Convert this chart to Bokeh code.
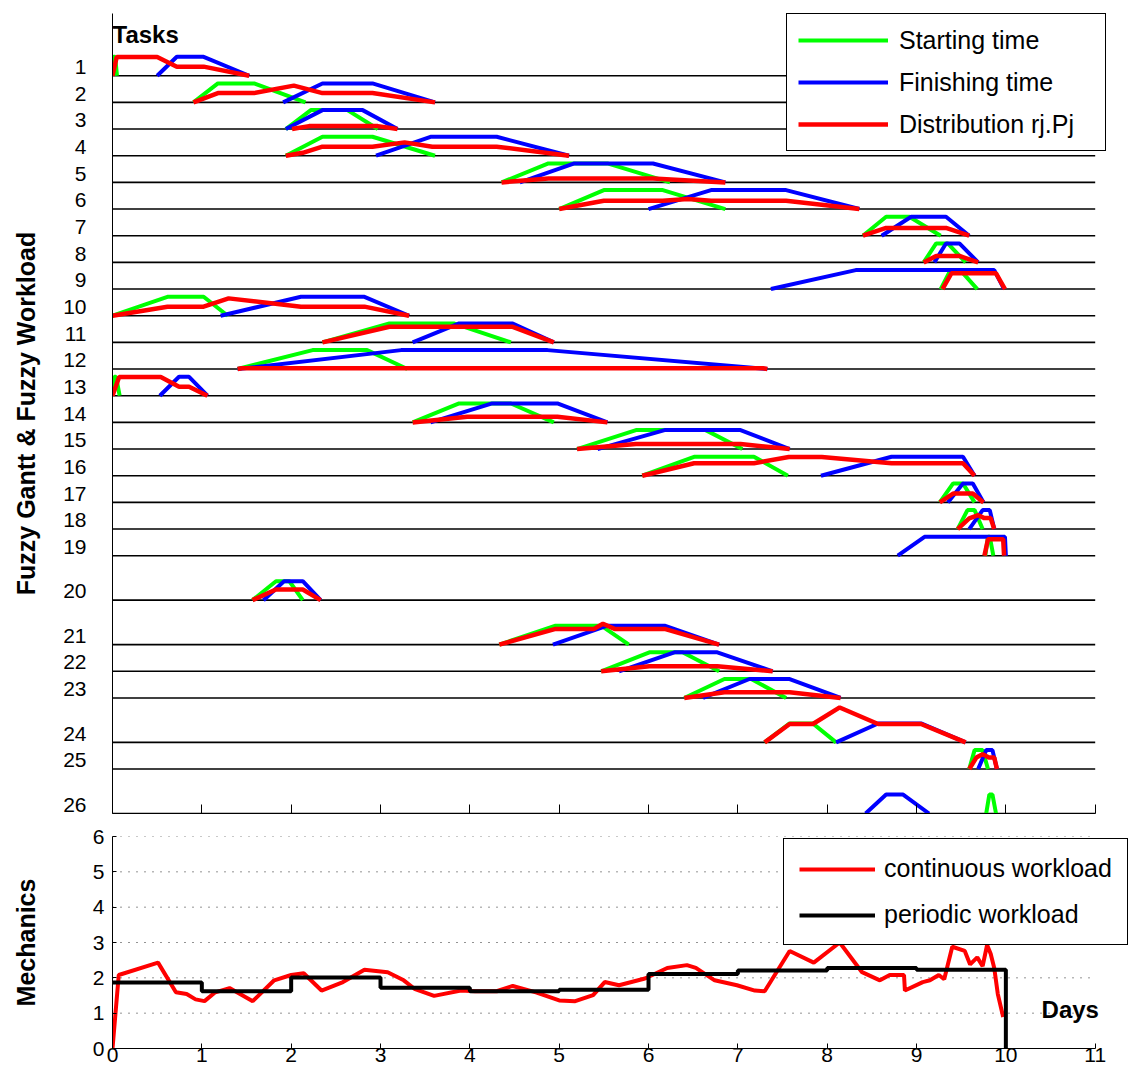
from bokeh.plotting import figure
from bokeh.layouts import column
from bokeh.models import Range1d, FixedTicker, Legend, LegendItem, Label
from bokeh.embed import file_html
from bokeh.resources import INLINE

FONT = "Liberation Sans"

# ---------------- data: fuzzy Gantt (days) ----------------
TASKS = [str(i) for i in range(1, 27)]
# spacing between consecutive task rows (in thirds of a standard row)
ROW_GAP = [3] * 18 + [5, 5, 3, 3, 5, 3, 5]
MEMBERSHIP = 0.71  # peak of starting / finishing trapezoids (row units)

START = [
    [0.0, 0.01, 0.03, 0.05], [0.906, 1.18, 1.585, 2.16], [1.94, 2.22, 2.63, 2.97],
    [1.94, 2.35, 2.91, 3.61], [4.355, 4.88, 5.54, 6.24], [5.0, 5.50, 6.16, 6.86],
    [8.40, 8.66, 8.92, 9.27], [9.08, 9.22, 9.35, 9.55], [9.27, 9.38, 9.49, 9.68],
    [0.0, 0.615, 1.02, 1.29], [2.35, 3.10, 3.82, 4.46], [1.40, 2.24, 2.85, 3.30],
    [0.0, 0.02, 0.04, 0.08], [3.36, 3.88, 4.46, 4.94], [5.20, 5.86, 6.64, 7.05],
    [5.93, 6.51, 7.18, 7.56], [9.26, 9.41, 9.52, 9.65], [9.46, 9.57, 9.65, 9.74],
    [9.77, 9.80, 9.82, 9.86], [1.567, 1.83, 1.98, 2.13], [4.33, 4.96, 5.47, 5.78],
    [5.47, 6.01, 6.38, 6.79], [6.40, 6.85, 7.15, 7.54], [7.30, 7.58, 7.84, 8.10],
    [9.59, 9.65, 9.74, 9.80], [9.78, 9.815, 9.85, 9.89],
]
FINISH = [
    [0.50, 0.72, 1.02, 1.53], [1.91, 2.35, 2.91, 3.61], [1.94, 2.35, 2.80, 3.19],
    [2.95, 3.56, 4.30, 5.11], [4.56, 5.17, 6.05, 6.86], [6.0, 6.70, 7.54, 8.36],
    [8.61, 8.94, 9.33, 9.59], [9.20, 9.33, 9.48, 9.69], [7.37, 8.32, 9.87, 9.98],
    [1.21, 2.11, 2.82, 3.32], [3.36, 3.88, 4.48, 4.94], [1.40, 3.23, 4.87, 7.33],
    [0.53, 0.745, 0.857, 1.063], [3.56, 4.25, 4.98, 5.54], [5.43, 6.18, 7.03, 7.58],
    [7.93, 8.72, 9.52, 9.65], [9.35, 9.52, 9.63, 9.75], [9.59, 9.74, 9.82, 9.87],
    [8.79, 9.09, 9.99, 10.0], [1.69, 1.92, 2.13, 2.33], [4.93, 5.54, 6.18, 6.79],
    [5.67, 6.29, 6.77, 7.39], [6.61, 7.13, 7.58, 8.15], [8.10, 8.57, 9.05, 9.55],
    [9.69, 9.78, 9.85, 9.90], [8.43, 8.66, 8.85, 9.14],
]
DIST_X = [
    [0.0, 0.047, 0.50, 0.72, 1.02, 1.53],
    [0.906, 1.18, 1.585, 2.03, 2.35, 2.91, 3.61],
    [2.01, 2.2, 2.97, 3.19],
    [1.94, 2.13, 2.35, 2.91, 3.27, 3.58, 4.30, 5.11],
    [4.355, 4.88, 6.05, 6.86],
    [5.0, 5.50, 6.16, 6.44, 6.70, 7.54, 8.36],
    [8.40, 8.66, 9.33, 9.59],
    [9.08, 9.22, 9.48, 9.69],
    [9.29, 9.39, 9.89, 9.99],
    [0.0, 0.615, 1.02, 1.30, 2.11, 2.82, 3.32],
    [2.35, 3.10, 4.48, 4.94],
    [1.40, 1.45, 7.28, 7.33],
    [0.0, 0.074, 0.54, 0.745, 0.857, 1.063],
    [3.36, 3.97, 4.98, 5.54],
    [5.20, 5.86, 7.03, 7.58],
    [5.93, 6.51, 7.18, 7.57, 7.94, 8.72, 9.52, 9.65],
    [9.26, 9.41, 9.63, 9.75],
    [9.46, 9.59, 9.69, 9.76, 9.83, 9.87],
    [9.76, 9.80, 9.97, 9.98],
    [1.567, 1.83, 2.13, 2.33],
    [4.33, 4.96, 5.39, 5.49, 5.62, 6.18, 6.79],
    [5.47, 6.01, 6.77, 7.39],
    [6.40, 6.85, 7.58, 8.15],
    [7.30, 7.58, 7.84, 8.14, 8.57, 9.05, 9.55],
    [9.59, 9.67, 9.74, 9.81, 9.87, 9.90],
    [],
]
DIST_H = [
    [0, 0.70, 0.70, 0.34, 0.34, 0],
    [0, 0.35, 0.35, 0.63, 0.35, 0.35, 0],
    [0, 0.11, 0.11, 0],
    [0, 0.11, 0.34, 0.34, 0.50, 0.34, 0.34, 0],
    [0, 0.15, 0.15, 0],
    [0, 0.31, 0.31, 0.38, 0.31, 0.31, 0],
    [0, 0.29, 0.29, 0],
    [0, 0.24, 0.24, 0],
    [0, 0.59, 0.59, 0],
    [0, 0.34, 0.34, 0.65, 0.34, 0.34, 0],
    [0, 0.585, 0.585, 0],
    [0, 0.03, 0.03, 0],
    [0, 0.70, 0.70, 0.34, 0.34, 0],
    [0, 0.21, 0.21, 0],
    [0, 0.19, 0.19, 0],
    [0, 0.47, 0.47, 0.70, 0.70, 0.47, 0.47, 0],
    [0, 0.33, 0.33, 0],
    [0, 0.40, 0.52, 0.41, 0.41, 0],
    [0, 0.62, 0.62, 0],
    [0, 0.40, 0.40, 0],
    [0, 0.59, 0.59, 0.78, 0.59, 0.59, 0],
    [0, 0.19, 0.19, 0],
    [0, 0.21, 0.21, 0],
    [0, 0.69, 0.69, 1.31, 0.69, 0.69, 0],
    [0, 0.43, 0.56, 0.43, 0.43, 0],
    [],
]

# ---------------- data: workload (mechanics) ----------------
DAY_TICKS = list(range(0, 12))
LOAD_TICKS = list(range(0, 7))
CONT_X = [0, 0.07, 0.51, 0.71, 0.83, 0.93, 1.03, 1.15, 1.31, 1.57, 1.81, 2.00, 2.14,
          2.34, 2.58, 2.82, 3.08, 3.26, 3.38, 3.60, 3.90, 4.06, 4.30, 4.48, 4.74,
          5.00, 5.18, 5.38, 5.51, 5.67, 5.96, 6.21, 6.43, 6.53, 6.74, 6.99, 7.19,
          7.30, 7.58, 7.85, 8.14, 8.39, 8.59, 8.70, 8.86, 8.87, 9.07, 9.15, 9.25,
          9.31, 9.40, 9.54, 9.60, 9.68, 9.74, 9.79, 9.83, 9.87, 9.91, 9.97]
CONT_Y = [0, 2.08, 2.43, 1.59, 1.54, 1.39, 1.34, 1.59, 1.71, 1.34, 1.93, 2.08, 2.13,
          1.64, 1.88, 2.23, 2.16, 1.93, 1.69, 1.49, 1.64, 1.62, 1.62, 1.77, 1.59,
          1.36, 1.34, 1.51, 1.88, 1.79, 1.98, 2.28, 2.36, 2.28, 1.93, 1.79, 1.64,
          1.62, 2.76, 2.43, 3.0, 2.16, 1.93, 2.08, 2.08, 1.64, 1.88, 1.93, 2.08,
          1.96, 2.88, 2.76, 2.38, 2.58, 2.33, 2.93, 2.68, 2.28, 1.54, 0.89]
PERIOD_DAYS = list(range(0, 10))
PERIOD_LOAD = [1.87, 1.62, 2.01, 1.72, 1.62, 1.66, 2.11, 2.21, 2.28, 2.23]

# ---------------- derived row geometry ----------------
THIRDS = 3
base = [0.0] * len(TASKS)
for k in range(len(TASKS) - 2, -1, -1):
    base[k] = base[k + 1] + ROW_GAP[k]
label_pos = [int(b) + 1 for b in base]
TOP_Y = 90
X_END = 11.44  # frame extends a little past day 11 so the legends fit
DAY_MAX = DAY_TICKS[-1]

# ---------------- top panel ----------------
top = figure(width=1136, height=823, x_range=Range1d(0, X_END), y_range=Range1d(0, TOP_Y),
             output_backend="svg", toolbar_location=None,
             min_border_left=112, min_border_right=2, min_border_top=13, min_border_bottom=10)
top.outline_line_color = None
top.xgrid.visible = False
top.ygrid.visible = False

ya = top.yaxis[0]
ya.ticker = FixedTicker(ticks=label_pos)
ya.major_label_overrides = {p: t for p, t in zip(label_pos, TASKS)}
ya.major_tick_line_color = None
ya.minor_tick_line_color = None
ya.major_tick_in = 0
ya.major_tick_out = 0
ya.major_label_standoff = 26
ya.major_label_text_font = FONT
ya.major_label_text_font_size = "21px"
ya.major_label_text_color = "black"
ya.axis_line_color = "black"
ya.axis_label = "Fuzzy Gantt & Fuzzy Workload"
ya.axis_label_text_font = FONT
ya.axis_label_text_font_style = "bold"
ya.axis_label_text_font_size = "25px"
ya.axis_label_text_color = "black"
ya.axis_label_standoff = 20

xa = top.xaxis[0]
xa.bounds = (0, DAY_MAX)
xa.ticker = FixedTicker(ticks=DAY_TICKS)
xa.major_label_text_font_size = "0px"
xa.major_label_text_color = None
xa.major_label_text_alpha = 0
xa.major_label_standoff = 0
xa.major_tick_in = 9
xa.major_tick_out = 0
xa.minor_tick_line_color = None
xa.axis_line_color = "black"
xa.major_tick_line_color = "black"

top.segment(x0=0, x1=DAY_MAX, y0=base, y1=base, line_color="black", line_width=1.6)

gxs = [list(s) for s in START]
gys = [[b, b + MEMBERSHIP * THIRDS, b + MEMBERSHIP * THIRDS, b] for b in base]
bxs = [list(f) for f in FINISH]
rxs, rys = [], []
for b, xs, hs in zip(base, DIST_X, DIST_H):
    if xs:
        rxs.append(xs)
        rys.append([b + h * THIRDS for h in hs])

r_g = top.multi_line(xs=gxs, ys=gys, line_color="#00ff00", line_width=4)
r_b = top.multi_line(xs=bxs, ys=gys, line_color="#0000ff", line_width=4)
r_r = top.multi_line(xs=rxs, ys=rys, line_color="#ff0000", line_width=4.5)

leg_top = Legend(items=[LegendItem(label="Starting time", renderers=[r_g]),
                        LegendItem(label="Finishing time", renderers=[r_b]),
                        LegendItem(label="Distribution rj.Pj", renderers=[r_r])],
                 location=(674, 662))
leg_top.label_text_font = FONT
leg_top.label_text_font_size = "25px"
leg_top.label_text_color = "black"
leg_top.glyph_width = 90
leg_top.glyph_height = 30
leg_top.label_height = 30
leg_top.label_width = 195
leg_top.label_standoff = 11
leg_top.spacing = 12
leg_top.padding = 11
leg_top.margin = 0
leg_top.border_line_color = "black"
leg_top.border_line_alpha = 1.0
leg_top.border_line_width = 1.3
leg_top.background_fill_alpha = 1.0
top.add_layout(leg_top)

top.add_layout(Label(x=0, y=87.6, text="Tasks", text_font=FONT, text_font_style="bold",
                     text_font_size="24px", text_align="left", text_baseline="middle",
                     text_color="black"))

# ---------------- bottom panel ----------------
bot = figure(width=1136, height=249, x_range=Range1d(0, X_END), y_range=Range1d(0, 6),
             output_backend="svg", toolbar_location=None,
             min_border_left=112, min_border_right=2, min_border_top=13, min_border_bottom=24)
bot.outline_line_color = None
bot.xgrid.visible = False
bot.ygrid.visible = False

# dotted horizontal grid, spanning days 0..11
bot.segment(x0=0, x1=DAY_MAX, y0=LOAD_TICKS[1:], y1=LOAD_TICKS[1:], line_color="black",
            line_alpha=0.85, line_width=1, line_dash="1 7")

bx = bot.xaxis[0]
bx.bounds = (0, DAY_MAX)
bx.ticker = FixedTicker(ticks=DAY_TICKS)
bx.major_tick_in = 5
bx.major_tick_out = 0
bx.minor_tick_line_color = None
bx.major_label_standoff = -1
bx.major_label_text_font = FONT
bx.major_label_text_font_size = "21px"
bx.major_label_text_color = "black"
bx.axis_line_color = "black"

by = bot.yaxis[0]
by.ticker = FixedTicker(ticks=LOAD_TICKS)
by.major_tick_in = 4
by.major_tick_out = 0
by.minor_tick_line_color = None
by.major_label_standoff = 8
by.major_label_text_font = FONT
by.major_label_text_font_size = "21px"
by.major_label_text_color = "black"
by.axis_line_color = "black"
by.axis_label = "Mechanics"
by.axis_label_text_font = FONT
by.axis_label_text_font_style = "bold"
by.axis_label_text_font_size = "25px"
by.axis_label_text_color = "black"
by.axis_label_standoff = 50

r_c = bot.line(CONT_X, CONT_Y, line_color="#ff0000", line_width=4)
r_p = bot.step(PERIOD_DAYS + [10, 10], PERIOD_LOAD + [PERIOD_LOAD[-1], 0], mode="after",
               line_color="black", line_width=4)

leg_bot = Legend(items=[LegendItem(label="continuous workload", renderers=[r_c]),
                        LegendItem(label="periodic workload", renderers=[r_p])],
                 location=(671, 103))
leg_bot.label_text_font = FONT
leg_bot.label_text_font_size = "25px"
leg_bot.label_text_color = "black"
leg_bot.glyph_width = 76
leg_bot.glyph_height = 28
leg_bot.label_height = 28
leg_bot.label_standoff = 9
leg_bot.spacing = 17
leg_bot.padding = 15
leg_bot.margin = 0
leg_bot.border_line_color = "black"
leg_bot.border_line_alpha = 1.0
leg_bot.border_line_width = 1.3
leg_bot.background_fill_alpha = 1.0
bot.add_layout(leg_bot)

bot.add_layout(Label(x=10.4, y=1.11, text="Days", text_font=FONT, text_font_style="bold",
                     text_font_size="24px", text_align="left", text_baseline="middle",
                     text_color="black"))

layout = column(top, bot, spacing=0)
open("out.html", "w").write(file_html(layout, INLINE))
